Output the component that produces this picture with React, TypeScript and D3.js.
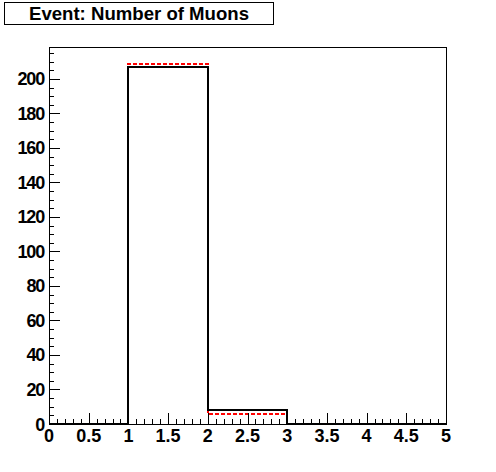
import React from "react";
import * as d3 from "d3";

const binEdges = [0, 1, 2, 3, 4, 5];
const blackCounts = [0, 207, 8, 0, 0];
const redCounts = [0, 208.5, 6, 0, 0];
const xTickLabels = ["0", "0.5", "1", "1.5", "2", "2.5", "3", "3.5", "4", "4.5", "5"];
const yTickValues = [0, 20, 40, 60, 80, 100, 120, 140, 160, 180, 200];
const titleText = "Event: Number of Muons";

const W = 496, H = 472;
const L = 49, R = 446, T = 47, B = 424;

export default function App() {
  const x = d3.scaleLinear().domain([0, 5]).range([L, R]);
  const y = d3.scaleLinear().domain([0, 218.5]).range([B, T]);

  const stepPath = (counts: number[]) => {
    const px = (v: number) => Math.round(x(v));
    const py = (v: number) => Math.round(y(v));
    const pts: [number, number][] = [];
    pts.push([px(binEdges[0]), py(0)]);
    counts.forEach((c, i) => {
      pts.push([px(binEdges[i]), py(c)]);
      pts.push([px(binEdges[i + 1]), py(c)]);
    });
    pts.push([px(binEdges[binEdges.length - 1]), py(0)]);
    return d3.line()(pts) as string;
  };

  const xMinor = d3.range(0, 5.0001, 0.1);
  const xMajor = xTickLabels.map((s) => +s);
  const yMinor = d3.range(0, 218.5, 5);

  const font = "'Liberation Sans', Arial, Helvetica, sans-serif";

  return (
    <div style={{ position: "absolute", left: 0, top: 0 }}>
      <svg width={W} height={H} style={{ display: "block", background: "#fff" }}>
        <rect x={0} y={0} width={W} height={H} fill="#fff" />
        {/* title box */}
        <rect x={4.5} y={2.5} width={269} height={22} fill="#fff" stroke="#000" strokeWidth={1} />
        <text x={139} y={20} textAnchor="middle" fontFamily={font} fontWeight="bold" fontSize={18.6} fill="#000">
          {titleText}
        </text>

        {/* histograms */}
        <path d={stepPath(redCounts)} fill="none" stroke="#ff0000" strokeWidth={2} strokeDasharray="4,2" shapeRendering="crispEdges" />
        <path d={stepPath(blackCounts)} fill="none" stroke="#000" strokeWidth={2} shapeRendering="crispEdges" />

        {/* frame */}
        <rect x={L + 0.5} y={T + 0.5} width={R - L} height={B - T} fill="none" stroke="#000" strokeWidth={1} shapeRendering="crispEdges" />

        {/* ticks */}
        <g stroke="#000" strokeWidth={1} shapeRendering="crispEdges">
          {xMinor.map((v, i) => {
            const major = i % 5 === 0;
            return <line key={"xm" + i} x1={Math.round(x(v)) + 0.5} x2={Math.round(x(v)) + 0.5} y1={B} y2={B - (major ? 11 : 5)} />;
          })}
          {yMinor.map((v, i) => {
            const major = i % 4 === 0;
            return <line key={"ym" + i} y1={Math.round(y(v)) + 0.5} y2={Math.round(y(v)) + 0.5} x1={L} x2={L + (major ? 11 : 5)} />;
          })}
        </g>

        {/* x labels */}
        <g fontFamily={font} fontWeight="bold" fontSize={18} fill="#000" textAnchor="middle">
          {xTickLabels.map((s, i) => (
            <text key={"xl" + i} x={x(xMajor[i])} y={442}>{s}</text>
          ))}
        </g>
        {/* y labels */}
        <g fontFamily={font} fontWeight="bold" fontSize={18} fill="#000" textAnchor="end" letterSpacing={-1.2}>
          {yTickValues.map((v) => (
            <text key={"yl" + v} x={44} y={y(v) + 6.5}>{v}</text>
          ))}
        </g>
      </svg>
    </div>
  );
}
